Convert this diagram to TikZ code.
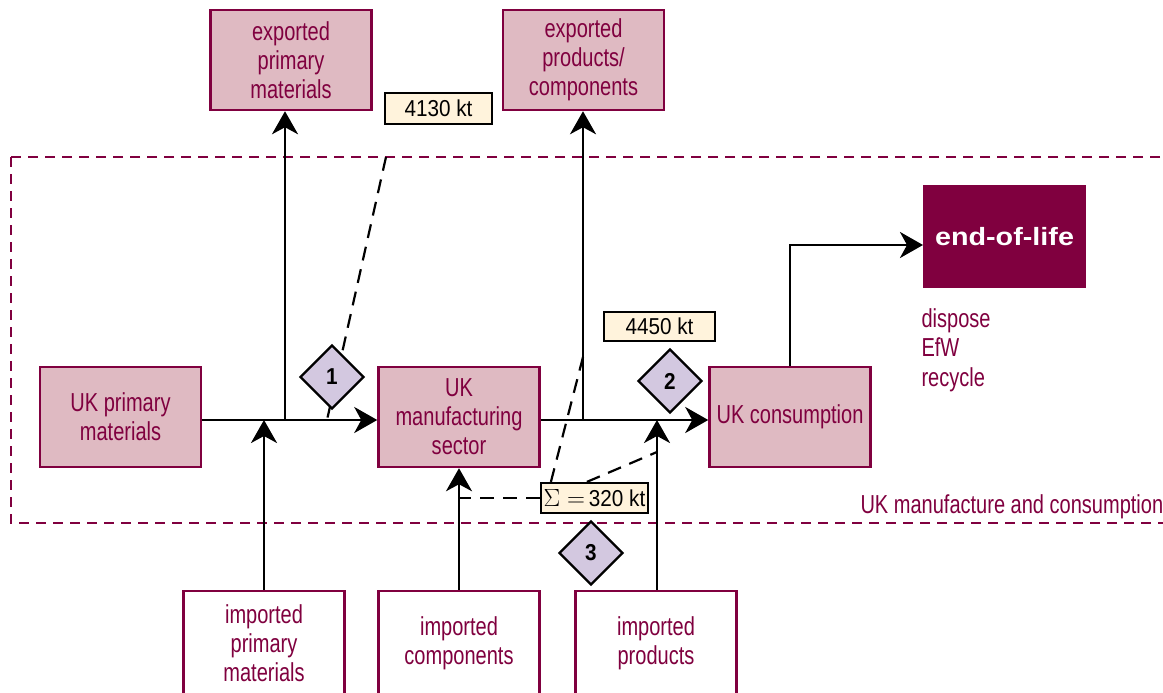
\documentclass[tikz,border=0pt]{standalone}
\usepackage{fontspec}
\setmainfont[FakeStretch=0.77]{Liberation Sans}
\newfontfamily\valfont[FakeStretch=0.9]{Liberation Sans}
\newfontfamily\eolfont[FakeStretch=1.15]{Liberation Sans}
\usetikzlibrary{shapes.geometric,arrows.meta,calc}
\definecolor{maroon}{HTML}{80003F}
\definecolor{rosefill}{HTML}{DFBAC2}
\definecolor{lilac}{HTML}{D3C8E0}
\definecolor{cream}{HTML}{FFF3DC}
\tikzset{
  txt/.style={font=\fontsize{26}{29}\selectfont, align=center},
  pbox/.style={txt, draw=maroon, line width=2.5pt, fill=rosefill, text=maroon,
    minimum width=161pt, minimum height=100pt, inner sep=0pt},
  wbox/.style={pbox, fill=white, minimum height=104pt},
  valbox/.style={draw=black, line width=2.2pt, fill=cream, inner sep=0pt,
    font=\valfont\fontsize{23}{26}\selectfont},
  marker/.style={diamond, draw=black, line width=2.2pt, fill=lilac, aspect=1,
    minimum width=64pt, minimum height=64pt, inner sep=0pt,
    font=\valfont\bfseries\fontsize{23}{24}\selectfont},
  arr/.style={line width=2.5pt, -{Stealth[length=23pt,width=26pt,inset=7pt]}},
  dashline/.style={line width=2.2pt, dash pattern=on 14pt off 9pt},
}
\begin{document}
\begin{tikzpicture}[x=1pt,y=-1pt]
\useasboundingbox (0,0) rectangle (1163,693);

% system boundary
\draw[maroon, line width=2.5pt, dash pattern=on 10pt off 7pt] (11,157) rectangle (1180,523);
\node[anchor=west, text=maroon, font=\fontsize{26}{29}\selectfont] (bound) at (857,507) {UK manufacture and consumption};

% boxes
\node[pbox] (epm) at (291,60) {exported\\primary\\materials};
\node[pbox] (epp) at (583.5,60) {exported\\products/\\components};
\node[pbox] (ukpm) at (120.5,417) {UK primary\\materials};
\node[pbox] (ukm) at (459,417) {UK\\manufacturing\\sector};
\node[pbox] (ukc) at (790,417) {UK consumption};
\node[wbox] (ipm) at (264,643) {imported\\primary\\materials};
\node[wbox] (icp) at (459,643) {imported\\components};
\node[wbox] (ipr) at (656,643) {imported\\products};
\node[fill=maroon, text=white, minimum width=163pt, minimum height=103pt, inner sep=0pt,
  font=\eolfont\bfseries\fontsize{25}{28}\selectfont] (eol) at (1004.5,236.5) {end-of-life};
\node[anchor=west, text=maroon, align=left, font=\fontsize{26}{29.5}\selectfont] (fate) at (918,350) {dispose\\EfW\\recycle};

% flow junctions
\coordinate (flow) at (0,420);
\coordinate (j1) at (285,420);
\coordinate (j2) at (583,420);
\coordinate (eolin) at (923,245);

% value labels
\node[valbox, minimum width=107pt, minimum height=31pt] (v1) at (438.5,108.5) {4130 kt};
\node[valbox, minimum width=111pt, minimum height=29pt] (v2) at (659.5,326.5) {4450 kt};
\node[valbox, minimum width=107pt, minimum height=30pt] (v3) at (594.5,498)
  {{\fontsize{27}{27}\selectfont$\Sigma=$}\,320 kt};

% dashed leaders
\coordinate (d1a) at (386,157);
\coordinate (d1b) at (327,420);
\coordinate (d2a) at (583,357);
\coordinate (d3a) at (657,452);
\draw[dashline] (d1a) -- (d1b);
\draw[dashline] ($(v3.north west)+(11,0)$) -- (d2a);
\draw[dashline] ($(v3.north west)+(47,0)$) -- (d3a);
\draw[dashline] (v3.west) -- (icp.north |- v3.west);

% material flows
\draw[arr] (ukpm.east |- flow) -- (ukm.west |- flow);
\draw[arr] (ukm.east |- flow) -- (ukc.west |- flow);
\draw[arr] (j1) -- (j1 |- epm.south);
\draw[arr] (j2) -- (j2 |- epp.south);
\draw[arr] (ipm.north) -- (ipm.north |- flow);
\draw[arr] (icp.north) -- (ukm.south);
\draw[arr] (ipr.north -| d3a) -- (d3a |- flow);
\draw[arr] (ukc.north) |- (eolin);

% markers
\node[marker] (m1) at (332,377) {1};
\node[marker] (m2) at (670,381) {2};
\node[marker] (m3) at (591,553) {3};
\end{tikzpicture}
\end{document}
